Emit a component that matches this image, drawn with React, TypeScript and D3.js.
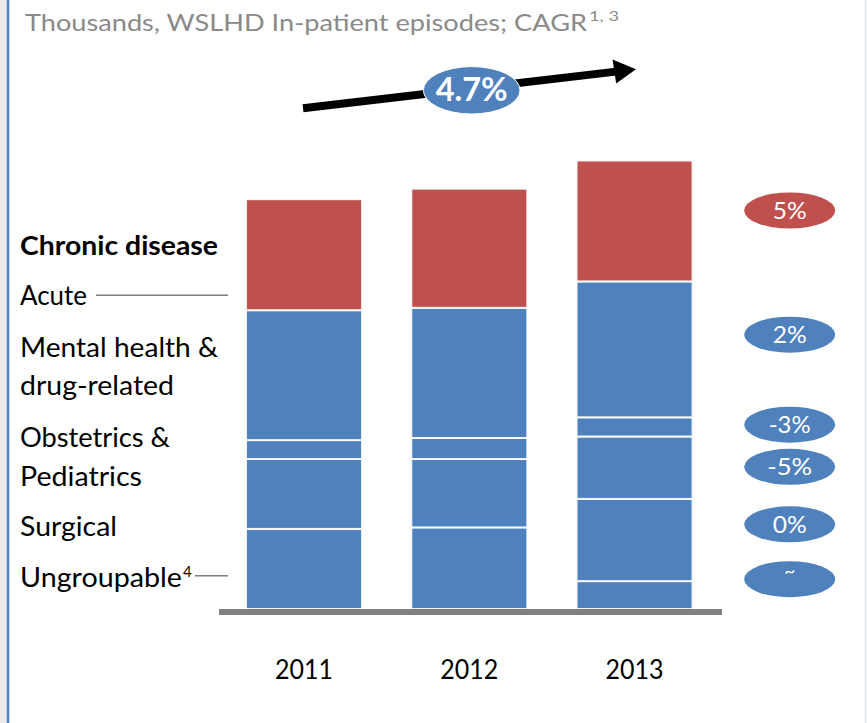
import React from "react";
import * as d3 from "d3";

// ---- Data (thousands of in-patient episodes) ----
const years = ["2011", "2012", "2013"];
const ungroupable = [0, 0, 9.3];
const surgical = [26.7, 27.2, 27.4];
const obstetrics = [23.3, 22.8, 20.8];
const mental = [6.3, 7.0, 6.4];
const acute = [43.3, 43.4, 45.3];
const chronic = [37.0, 39.7, 40.3];

const seriesKeys = ["ungroupable", "surgical", "obstetrics", "mental", "acute", "chronic"];
const cagrLabels = ["5%", "2%", "-3%", "-5%", "0%", "~"];
const totalCagr = "4.7%";

// ---- Layout ----
const W = 867;
const H = 723;
const BLUE = "#4f81bd";
const RED = "#c0504d";
const FONT = "Lato, 'Open Sans', sans-serif";

const leftLabels = [
  { lines: ["Chronic disease"], bold: true, y: [254.5], w: [198] },
  { lines: ["Acute"], y: [305], w: [67] },
  { lines: ["Mental health &", "drug-related"], y: [356.5, 395], w: [198, 154] },
  { lines: ["Obstetrics &", "Pediatrics"], y: [446.5, 486], w: [150, 122] },
  { lines: ["Surgical"], y: [536], w: [97] },
  { lines: ["Ungroupable"], y: [586.5], w: [162] },
];
const cagrY = [210.5, 334.7, 424.7, 466.8, 524.3, 579.2];
const cagrW = [34, 34, 42, 45, 34, 11];

export default function App() {
  const table = years.map((yr, i) => ({
    year: yr,
    ungroupable: ungroupable[i],
    surgical: surgical[i],
    obstetrics: obstetrics[i],
    mental: mental[i],
    acute: acute[i],
    chronic: chronic[i],
  }));
  const stacked = d3.stack<any>().keys(seriesKeys)(table);

  const x = d3.scaleBand<string>().domain(years).range([196.8, 741.8]).paddingInner(0.298).paddingOuter(0.298);
  const y = d3.scaleLinear().domain([0, 150]).range([609, 159]);

  const color = (k: string) => (k === "chronic" ? RED : BLUE);

  return (
    <svg width={W} height={H} style={{ position: "absolute", left: 0, top: 0 }} fontFamily={FONT}>
      <rect x={0} y={0} width={W} height={H} fill="#ffffff" />
      <rect x={0} y={0} width={6.5} height={H} fill="#ebebeb" />
      <rect x={6.7} y={0} width={2.6} height={H} fill="#4f81bd" />
      <line x1={865.5} x2={865.5} y1={0} y2={H} stroke="#dce6f2" strokeWidth={1.5} />

      {/* Title */}
      <text x={25} y={31} fontSize={23} fill="#8a8a8a" textLength={562} lengthAdjust="spacingAndGlyphs">
        Thousands, WSLHD In-patient episodes;  CAGR
      </text>
      <text x={589} y={21} fontSize={14} fill="#8a8a8a" textLength={30} lengthAdjust="spacingAndGlyphs">
        1, 3
      </text>

      {/* CAGR arrow */}
      <line x1={303} y1={108.3} x2={616} y2={71.6} stroke="#000" strokeWidth={8} />
      <polygon points="612.5,59.5 636,69.3 616.2,83.5" fill="#000" />
      <ellipse cx={471.7} cy={90.3} rx={48.3} ry={23.7} fill={BLUE} stroke="#ffffff" strokeWidth={1} />
      <text x={471.7} y={100.5} fontSize={32} fontWeight="bold" fill="#fff" textAnchor="middle" textLength={72} lengthAdjust="spacingAndGlyphs">
        {totalCagr}
      </text>

      {/* Bars */}
      {stacked.map((s) => (
        <g key={s.key}>
          {s.map((d, i) => {
            const h = y(d[0]) - y(d[1]);
            if (h <= 0) return null;
            return (
              <rect
                key={i}
                x={x(years[i])}
                y={y(d[1])}
                width={x.bandwidth()}
                height={h}
                fill={color(s.key)}
                stroke="#ffffff"
                strokeOpacity={0.9}
                strokeWidth={2}
              />
            );
          })}
        </g>
      ))}

      {/* Axis baseline */}
      <rect x={219} y={609} width={503} height={6} fill="#808080" />

      {/* Year labels */}
      {years.map((yr) => (
        <text key={yr} x={(x(yr) as number) + x.bandwidth() / 2} y={679} fontSize={26} textAnchor="middle" fill="#000" textLength={58} lengthAdjust="spacingAndGlyphs">
          {yr}
        </text>
      ))}

      {/* Left category labels */}
      {leftLabels.map((lab, i) =>
        lab.lines.map((ln, j) => (
          <text
            key={i + "-" + j}
            x={20}
            y={lab.y[j]}
            fontSize={26}
            fontWeight={lab.bold ? "bold" : "normal"}
            fill="#000"
            textLength={lab.w[j]}
            lengthAdjust="spacingAndGlyphs"
          >
            {ln}
          </text>
        ))
      )}
      <text x={183} y={577} fontSize={15} fill="#000">4</text>
      <line x1={96} x2={228} y1={295.3} y2={295.3} stroke="#7f7f7f" strokeWidth={1.6} />
      <line x1={195} x2={228} y1={575.7} y2={575.7} stroke="#7f7f7f" strokeWidth={1.6} />

      {/* CAGR ovals */}
      {cagrLabels.map((lab, i) => (
        <g key={lab + i}>
          <ellipse cx={789.7} cy={cagrY[i]} rx={45.5} ry={18} fill={i === 0 ? RED : BLUE} />
          <text
            x={789.7}
            y={lab === "~" ? cagrY[i] - 1 : cagrY[i] + 8.5}
            fontSize={lab === "~" ? 20 : 23}
            fill="#fff"
            textAnchor="middle"
            textLength={cagrW[i]}
            lengthAdjust="spacingAndGlyphs"
          >
            {lab}
          </text>
        </g>
      ))}
    </svg>
  );
}
